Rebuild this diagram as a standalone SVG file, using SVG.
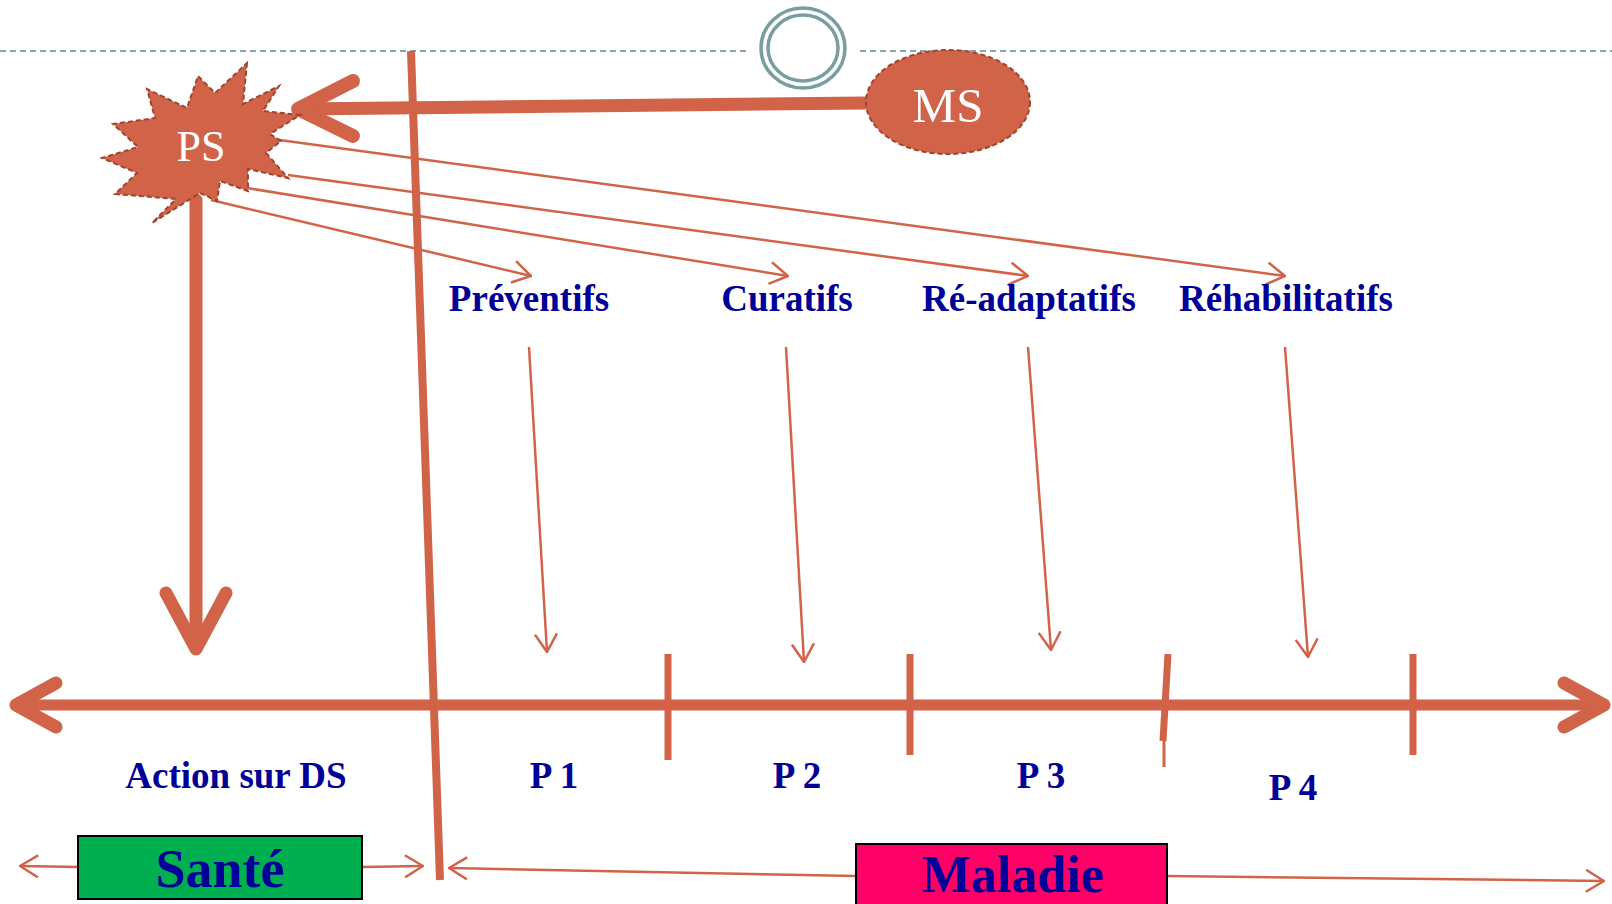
<svg xmlns="http://www.w3.org/2000/svg" width="1612" height="904" viewBox="0 0 1612 904">
<defs>
<style>
.thin{fill:none;stroke:#d16349;stroke-width:2.5;marker-end:url(#ah)}
.thick{fill:none;stroke:#d16349;stroke-linecap:round;stroke-linejoin:round}
.lbl{font-family:"Liberation Serif","Times New Roman",serif;font-weight:bold;fill:#000099;text-anchor:middle}
.wht{font-family:"Liberation Serif","Times New Roman",serif;fill:#ffffff;text-anchor:middle}
.tick{stroke:#d16349;stroke-width:7}
</style>
<marker id="ah" viewBox="0 0 20 24" refX="19" refY="12" markerWidth="20" markerHeight="24" markerUnits="userSpaceOnUse" orient="auto">
<path d="M1,1 L19,12 L1,23" fill="none" stroke="#d16349" stroke-width="2.5"/>
</marker>
</defs>
<rect width="1612" height="904" fill="#ffffff"/>
<g id="header">
<line x1="0" y1="51" x2="748" y2="51" stroke="#86a5a5" stroke-width="2" stroke-dasharray="6,4"/>
<line x1="860" y1="51" x2="1612" y2="51" stroke="#86a5a5" stroke-width="2" stroke-dasharray="6,4"/>
<ellipse cx="803" cy="48" rx="42" ry="40" fill="#ffffff" stroke="#7a9e9e" stroke-width="3.5"/>
<ellipse cx="803" cy="48" rx="35" ry="33" fill="none" stroke="#7a9e9e" stroke-width="3.5"/>
</g>
<g id="connectors">
<line x1="411" y1="51" x2="440" y2="880" stroke="#d16349" stroke-width="8"/>
<path class="thick" stroke-width="13" d="M866,103 L300,109"/>
<path class="thick" stroke-width="14" d="M353,81 L298,109 L353,136"/>
<path class="thick" stroke-width="13" d="M196,200 L196,648"/>
<path class="thick" stroke-width="13" d="M166,593 L196,649 L226,593"/>
<path class="thin" d="M211,200 L531,276"/>
<path class="thin" d="M247,188 L788,276"/>
<path class="thin" d="M288,175 L1028,276"/>
<path class="thin" d="M272,139 L1285,276"/>
<path class="thin" d="M529,347 L547,652"/>
<path class="thin" d="M786,347 L804,662"/>
<path class="thin" d="M1028,347 L1051,650"/>
<path class="thin" d="M1285,347 L1308,657"/>
<path class="thick" stroke-width="11" d="M16,705 L1604,705"/>
<path class="thick" stroke-width="13" d="M56,683 L16,705 L56,727"/>
<path class="thick" stroke-width="13" d="M1564,683 L1604,705 L1564,727"/>
<line class="tick" x1="668" y1="654" x2="668" y2="760"/>
<line class="tick" x1="910" y1="654" x2="910" y2="755"/>
<line class="tick" x1="1168" y1="654" x2="1163" y2="741"/>
<line x1="1164" y1="738" x2="1164" y2="767" stroke="#d16349" stroke-width="3"/>
<line class="tick" x1="1413" y1="654" x2="1413" y2="755"/>
<path class="thin" d="M78,867 L20,866"/>
<path class="thin" d="M362,867 L423,866"/>
<path class="thin" d="M856,876 L449,868"/>
<path class="thin" d="M1167,876 L1604,881"/>
</g>
<g id="ms">
<ellipse cx="948" cy="102" rx="82" ry="52" fill="#d16349" stroke="#a0432f" stroke-width="2" stroke-dasharray="5,3"/>
<text class="wht" x="948" y="122" font-size="49">MS</text>
</g>
<g id="ps">
<polygon points="247,63 243,104 279,86 263,111 300,115 270,134 281,141 266,153 288,178 248,169 248,191 220,181 217,201 200,193 152,223 176,199 115,194 137,173 102,158 138,147 113,124 155,118 147,89 187,108 198,76 215,93" fill="#d16349" stroke="#a0432f" stroke-width="2" stroke-dasharray="5,3"/>
<text class="wht" x="201" y="161" font-size="44">PS</text>
</g>
<g id="labels">
<text class="lbl" x="529" y="311" font-size="37">Préventifs</text>
<text class="lbl" x="787" y="311" font-size="37">Curatifs</text>
<text class="lbl" x="1029" y="311" font-size="37">Ré-adaptatifs</text>
<text class="lbl" x="1286" y="311" font-size="37">Réhabilitatifs</text>
<text class="lbl" x="236" y="788" font-size="37">Action sur DS</text>
<text class="lbl" x="554" y="788" font-size="37">P 1</text>
<text class="lbl" x="797" y="788" font-size="37">P 2</text>
<text class="lbl" x="1041" y="788" font-size="37">P 3</text>
<text class="lbl" x="1293" y="800" font-size="37">P 4</text>
</g>
<g id="sante">
<rect x="78" y="836" width="284" height="63" fill="#00b050" stroke="#000000" stroke-width="2"/>
<text class="lbl" x="220" y="887" font-size="54">Santé</text>
</g>
<g id="maladie">
<rect x="856" y="844" width="311" height="70" fill="#ff0066" stroke="#000000" stroke-width="2"/>
<text class="lbl" x="1013" y="892" font-size="52">Maladie</text>
</g>
</svg>
